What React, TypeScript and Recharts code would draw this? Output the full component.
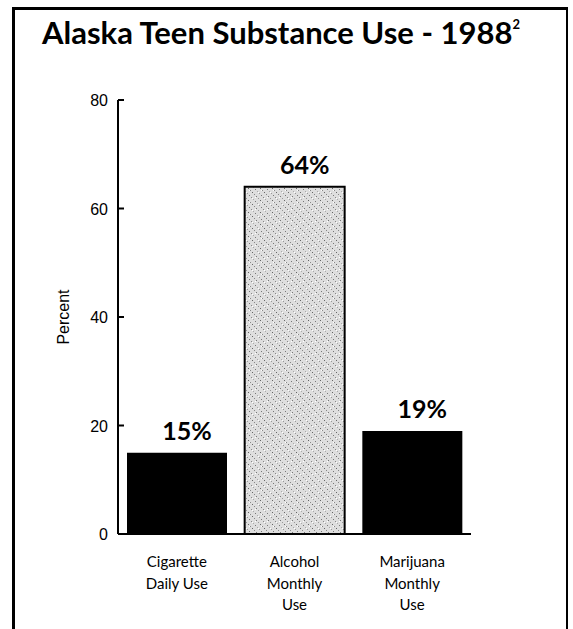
import React from 'react';
import { BarChart, Bar, XAxis, YAxis, Cell, LabelList } from 'recharts';

const categories = ['Cigarette\nDaily Use', 'Alcohol\nMonthly\nUse', 'Marijuana\nMonthly\nUse'];
const percents = [15, 64, 19];
const yTicks = [0, 20, 40, 60, 80];

const data = categories.map((name, i) => ({ name, value: percents[i] }));

const LABEL_FONT = 'Lato, "Open Sans", sans-serif';

function CategoryTick({ x, y, payload }: any) {
  const lines = String(payload.value).split('\n');
  return (
    <text x={x} y={y + 25} textAnchor="middle" fontFamily={LABEL_FONT} fontSize={15} fill="#000">
      {lines.map((l, i) => (
        <tspan key={i} x={x} dy={i === 0 ? 0 : 21.5}>{l}</tspan>
      ))}
    </text>
  );
}

function PercentTick({ x, y, payload }: any) {
  return (
    <g>
      <line x1={x + 10} x2={x + 16} y1={y} y2={y} stroke="#000" strokeWidth={2} />
      <text x={x} y={y} dy={6} textAnchor="end" fontFamily='"Liberation Sans", Arial, sans-serif' fontSize={16} fill="#000">
        {payload.value}
      </text>
    </g>
  );
}

function ValueLabel({ x, y, width, value }: any) {
  return (
    <text x={x + width / 2 + 10} y={y - 13} textAnchor="middle" fontFamily={LABEL_FONT} fontWeight={700} fontSize={25} fill="#000">
      {value}%
    </text>
  );
}

export default function App() {
  return (
    <div style={{ position: 'absolute', left: 0, top: 0, width: 573, height: 629, background: '#fff', overflow: 'hidden' }}>
      {/* frame: open at the bottom */}
      <div style={{ position: 'absolute', left: 12, top: 7, width: 551, height: 640, borderLeft: '3px solid #000', borderTop: '3px solid #000', borderRight: '2px solid #000' }} />
      <div style={{ position: 'absolute', left: 0, top: 13, width: 562, textAlign: 'center', fontFamily: LABEL_FONT, fontWeight: 700, fontSize: 31, color: '#000', whiteSpace: 'nowrap' }}>
        Alaska Teen Substance Use - 1988<sup style={{ fontSize: 13, verticalAlign: 'top', position: 'relative', top: 3 }}>2</sup>
      </div>
      <div style={{ position: 'absolute', left: 0, top: 0 }}>
        <BarChart width={573} height={629} data={data} margin={{ top: 100, right: 102, bottom: 35, left: 58 }} barSize={100}>
          <defs>
            <pattern id="stipple" width="12" height="12" patternUnits="userSpaceOnUse">
              <rect width="12" height="12" fill="#dedede" />
              <rect x="0" y="0" width="1" height="1" fill="#666" />
              <rect x="2" y="2" width="1" height="1" fill="#888" />
              <rect x="4" y="4" width="1" height="1" fill="#777" />
              <rect x="6" y="6" width="1" height="1" fill="#999" />
              <rect x="8" y="8" width="1" height="1" fill="#666" />
              <rect x="10" y="10" width="1" height="1" fill="#888" />
              <rect x="1" y="7" width="1" height="1" fill="#aaa" />
              <rect x="3" y="9" width="1" height="1" fill="#777" />
              <rect x="7" y="1" width="1" height="1" fill="#999" />
              <rect x="9" y="3" width="1" height="1" fill="#777" />
              <rect x="5" y="11" width="1" height="1" fill="#aaa" />
              <rect x="11" y="5" width="1" height="1" fill="#888" />
              <rect x="6" y="0" width="1" height="1" fill="#fff" />
              <rect x="0" y="6" width="1" height="1" fill="#fff" />
              <rect x="3" y="5" width="1" height="1" fill="#fff" />
              <rect x="9" y="10" width="1" height="1" fill="#fff" />
            </pattern>
          </defs>
          <XAxis
            dataKey="name"
            axisLine={{ stroke: '#000', strokeWidth: 2 }}
            tickLine={false}
            tick={<CategoryTick />}
            height={60}
            interval={0}
          />
          <YAxis
            domain={[0, 80]}
            ticks={yTicks}
            width={60}
            axisLine={{ stroke: '#000', strokeWidth: 2 }}
            tickLine={false}
            tickSize={0}
            tickMargin={10}
            tick={<PercentTick />}
            label={{ value: 'Percent', angle: -90, position: 'insideLeft', offset: 0, dx: 5, style: { fontFamily: '"Liberation Sans", Arial, sans-serif', fontSize: 16, fill: '#000', textAnchor: 'middle' } }}
          />
          <Bar dataKey="value" isAnimationActive={false}>
            {data.map((d, i) => (
              <Cell key={d.name} fill={i === 1 ? 'url(#stipple)' : '#000'} stroke="#000" strokeWidth={i === 1 ? 2 : 0} />
            ))}
            <LabelList dataKey="value" content={<ValueLabel />} />
          </Bar>
        </BarChart>
      </div>
    </div>
  );
}
